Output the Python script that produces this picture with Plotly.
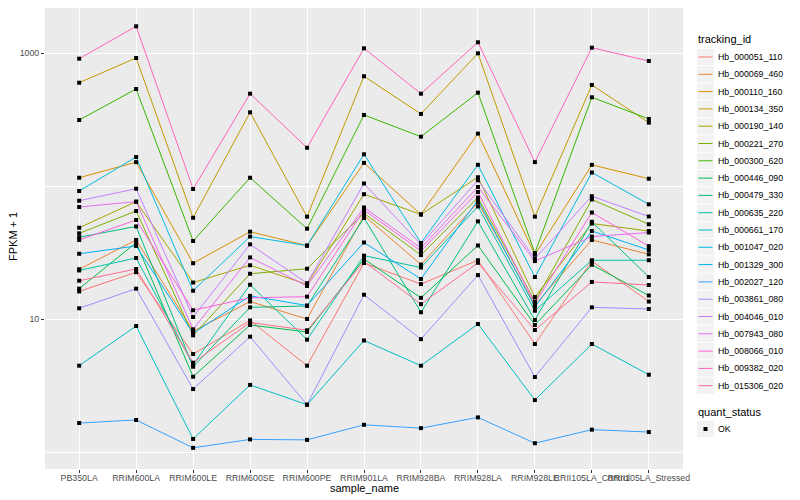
import plotly.graph_objects as go

samples = ["PB350LA", "RRIM600LA", "RRIM600LE", "RRIM600SE", "RRIM600PE", "RRIM901LA",
           "RRIM928BA", "RRIM928LA", "RRIM928LE", "RRII105LA_Control", "RRII105LA_Stressed"]

ids = ["Hb_000051_110", "Hb_000069_460", "Hb_000110_160", "Hb_000134_350", "Hb_000190_140",
       "Hb_000221_270", "Hb_000300_620", "Hb_000446_090", "Hb_000479_330", "Hb_000635_220",
       "Hb_000661_170", "Hb_001047_020", "Hb_001329_300", "Hb_002027_120", "Hb_003861_080",
       "Hb_004046_010", "Hb_007943_080", "Hb_008066_010", "Hb_009382_020", "Hb_015306_020"]

colors = ["#F8766D", "#EA8331", "#D89000", "#C09B00", "#A3A500", "#7CAE00", "#39B600", "#00BB4E",
          "#00BF7D", "#00C1A3", "#00BFC4", "#00BAE0", "#00B0F6", "#35A2FF", "#9590FF", "#C77CFF",
          "#E76BF3", "#FA62DB", "#FF62BC", "#FF6C91"]

# FPKM + 1 per gene, one value per sample
Hb_000051_110 = [16.2, 22.6, 5.48, 9.80, 4.48, 26.5, 18.4, 27.8, 6.52, 27.4, 13.6]
Hb_000069_460 = [23.8, 39.5, 8.13, 13.6, 10.05, 60.3, 25.8, 75.5, 12.8, 39.5, 30.8]
Hb_000110_160 = [116, 152, 26.4, 45.6, 35.8, 150, 61.4, 249, 30.6, 145, 114]
Hb_000134_350 = [601, 922, 58.0, 360, 59.1, 672, 350, 1000, 59.1, 578, 301]
Hb_000190_140 = [48.8, 76.6, 18.9, 25.5, 18.3, 87.2, 61.4, 117, 14.7, 52.5, 46.1]
Hb_000221_270 = [44.3, 65.2, 7.58, 22.0, 24.0, 62.7, 30.4, 82.3, 13.6, 79.6, 51.8]
Hb_000300_620 = [315, 539, 38.8, 116, 48.0, 344, 236, 506, 31.5, 467, 321]
Hb_000446_090 = [17.0, 37.7, 3.70, 9.06, 8.03, 28.4, 14.5, 35.9, 9.06, 25.7, 15.1]
Hb_000479_330 = [41.4, 49.9, 4.40, 12.3, 12.6, 57.8, 11.3, 54.5, 9.88, 54.1, 20.8]
Hb_000635_220 = [23.3, 28.9, 4.56, 18.2, 7.03, 30.1, 24.5, 70.5, 11.6, 27.8, 27.8]
Hb_000661_170 = [4.48, 8.90, 1.26, 3.21, 2.28, 6.93, 4.48, 9.22, 2.47, 6.52, 3.83]
Hb_001047_020 = [92.2, 166, 16.4, 41.9, 35.8, 174, 37.5, 145, 20.8, 127, 73.2]
Hb_001329_300 = [31.1, 35.6, 7.85, 15.0, 12.7, 37.8, 20.1, 78.9, 12.4, 46.1, 33.2]
Hb_002027_120 = [1.66, 1.75, 1.08, 1.25, 1.24, 1.61, 1.52, 1.83, 1.17, 1.48, 1.42]
Hb_003861_080 = [12.1, 17.0, 2.99, 7.40, 2.28, 15.3, 7.09, 21.5, 3.68, 12.3, 11.95]
Hb_004046_010 = [77.9, 95.9, 10.4, 36.6, 18.7, 105, 36.5, 111, 28.6, 84.2, 59.3]
Hb_007943_080 = [69.9, 76.6, 8.41, 29.2, 17.8, 69.3, 34.4, 98.8, 27.4, 41.9, 44.9]
Hb_008066_010 = [39.5, 55.8, 11.7, 14.5, 14.8, 66.4, 32.6, 90.6, 13.2, 63.5, 35.5]
Hb_009382_020 = [911, 1596, 95.4, 497, 195, 1090, 497, 1210, 152, 1102, 875]
Hb_015306_020 = [19.5, 23.9, 4.72, 9.46, 8.27, 27.2, 13.0, 26.6, 8.31, 19.1, 18.1]

series = [Hb_000051_110, Hb_000069_460, Hb_000110_160, Hb_000134_350, Hb_000190_140,
          Hb_000221_270, Hb_000300_620, Hb_000446_090, Hb_000479_330, Hb_000635_220,
          Hb_000661_170, Hb_001047_020, Hb_001329_300, Hb_002027_120, Hb_003861_080,
          Hb_004046_010, Hb_007943_080, Hb_008066_010, Hb_009382_020, Hb_015306_020]

status_levels = ["OK"]
y_ticks = [10, 1000]
y_minor = [1, 100]

FONT = "Liberation Sans, Arial, Helvetica, sans-serif"
W, H = 800, 500
OFF = 8  # page offset of the figure inside the browser window
# plot panel in window pixels: x 45..683, y 8..469
ML = 45 - OFF
MR = W - (683 - OFF)
MT = 0
MB = H - (469 - OFF)
PW, PH = W - ML - MR, H - MT - MB


def px(x):
    return (x - OFF - ML) / PW


def py(y):
    return 1 - (y - OFF - MT) / PH


fig = go.Figure()
for name, vals, col in zip(ids, series, colors):
    fig.add_trace(go.Scatter(x=samples, y=vals, mode="lines", name=name,
                             line=dict(color=col, width=1), showlegend=False))

all_x, all_y = [], []
for vals in series:
    all_x += samples
    all_y += vals
fig.add_trace(go.Scatter(x=all_x, y=all_y, mode="markers", name=status_levels[0],
                         marker=dict(color="black", size=4, symbol="square"),
                         showlegend=False))

# hand-built ggplot-style legend
shapes, annos = [], []
annos.append(dict(text="tracking_id", x=px(696), y=py(39), xref="paper", yref="paper",
                  xanchor="left", yanchor="middle", showarrow=False,
                  font=dict(size=11, color="black")))
step = 17.3
for i, (name, col) in enumerate(zip(ids, colors)):
    yc = 57 + i * step
    shapes.append(dict(type="rect", xref="paper", yref="paper", x0=px(697), x1=px(714),
                       y0=py(yc - 8.2), y1=py(yc + 8.2), fillcolor="#F2F2F2",
                       line=dict(width=0), layer="below"))
    shapes.append(dict(type="line", xref="paper", yref="paper", x0=px(698.5), x1=px(712.5),
                       y0=py(yc), y1=py(yc), line=dict(color=col, width=1)))
    annos.append(dict(text=name, x=px(716), y=py(yc), xref="paper", yref="paper",
                      xanchor="left", yanchor="middle", showarrow=False,
                      font=dict(size=8.8, color="black")))

annos.append(dict(text="quant_status", x=px(696), y=py(412), xref="paper", yref="paper",
                  xanchor="left", yanchor="middle", showarrow=False,
                  font=dict(size=11, color="black")))
for j, lev in enumerate(status_levels):
    yc = 429 + j * step
    shapes.append(dict(type="rect", xref="paper", yref="paper", x0=px(697), x1=px(714),
                       y0=py(yc - 8.2), y1=py(yc + 8.2), fillcolor="#F2F2F2",
                       line=dict(width=0), layer="below"))
    shapes.append(dict(type="rect", xref="paper", yref="paper", x0=px(703.5), x1=px(707.5),
                       y0=py(yc - 2), y1=py(yc + 2), fillcolor="black",
                       line=dict(width=0)))
    annos.append(dict(text=lev, x=px(716), y=py(yc), xref="paper", yref="paper",
                      xanchor="left", yanchor="middle", showarrow=False,
                      font=dict(size=8.8, color="black")))

# axis titles placed like ggplot's
annos.append(dict(text="sample_name", x=px(364), y=py(488), xref="paper", yref="paper",
                  xanchor="center", yanchor="middle", showarrow=False,
                  font=dict(size=11, color="black")))
annos.append(dict(text="FPKM + 1", x=px(13), y=py(237), xref="paper", yref="paper",
                  xanchor="center", yanchor="middle", showarrow=False, textangle=-90,
                  font=dict(size=11, color="black")))

# log range: top of panel (window y 8) to bottom (window y 469), 133 px per decade
y_top = 3 + (53.3 - 8) / 133
y_bot = 1 - (469 - 319.3) / 133

fig.update_layout(
    width=W, height=H,
    margin=dict(l=ML, r=MR, t=MT, b=MB, autoexpand=False),
    paper_bgcolor="white", plot_bgcolor="#EBEBEB",
    font=dict(family=FONT, size=11, color="black"),
    showlegend=False,
    shapes=shapes, annotations=annos,
    xaxis=dict(type="category", categoryorder="array", categoryarray=samples,
               range=[-0.6, 10.6], showgrid=True, gridcolor="white", gridwidth=1.07,
               zeroline=False, ticks="outside", ticklen=3, tickcolor="#333333",
               tickangle=0, tickfont=dict(size=8.8, color="#4D4D4D"),
               ticklabelstandoff=-3),
    yaxis=dict(type="log", range=[y_bot, y_top], tickvals=y_ticks,
               ticktext=[str(v) for v in y_ticks],
               showgrid=True, gridcolor="white", gridwidth=1.07, zeroline=False,
               ticks="outside", ticklen=3, tickcolor="#333333",
               tickfont=dict(size=8.8, color="#4D4D4D"),
               minor=dict(tickvals=y_minor, showgrid=True, gridcolor="white",
                          gridwidth=0.6, ticks="")),
)

fig.write_html("out.html")
